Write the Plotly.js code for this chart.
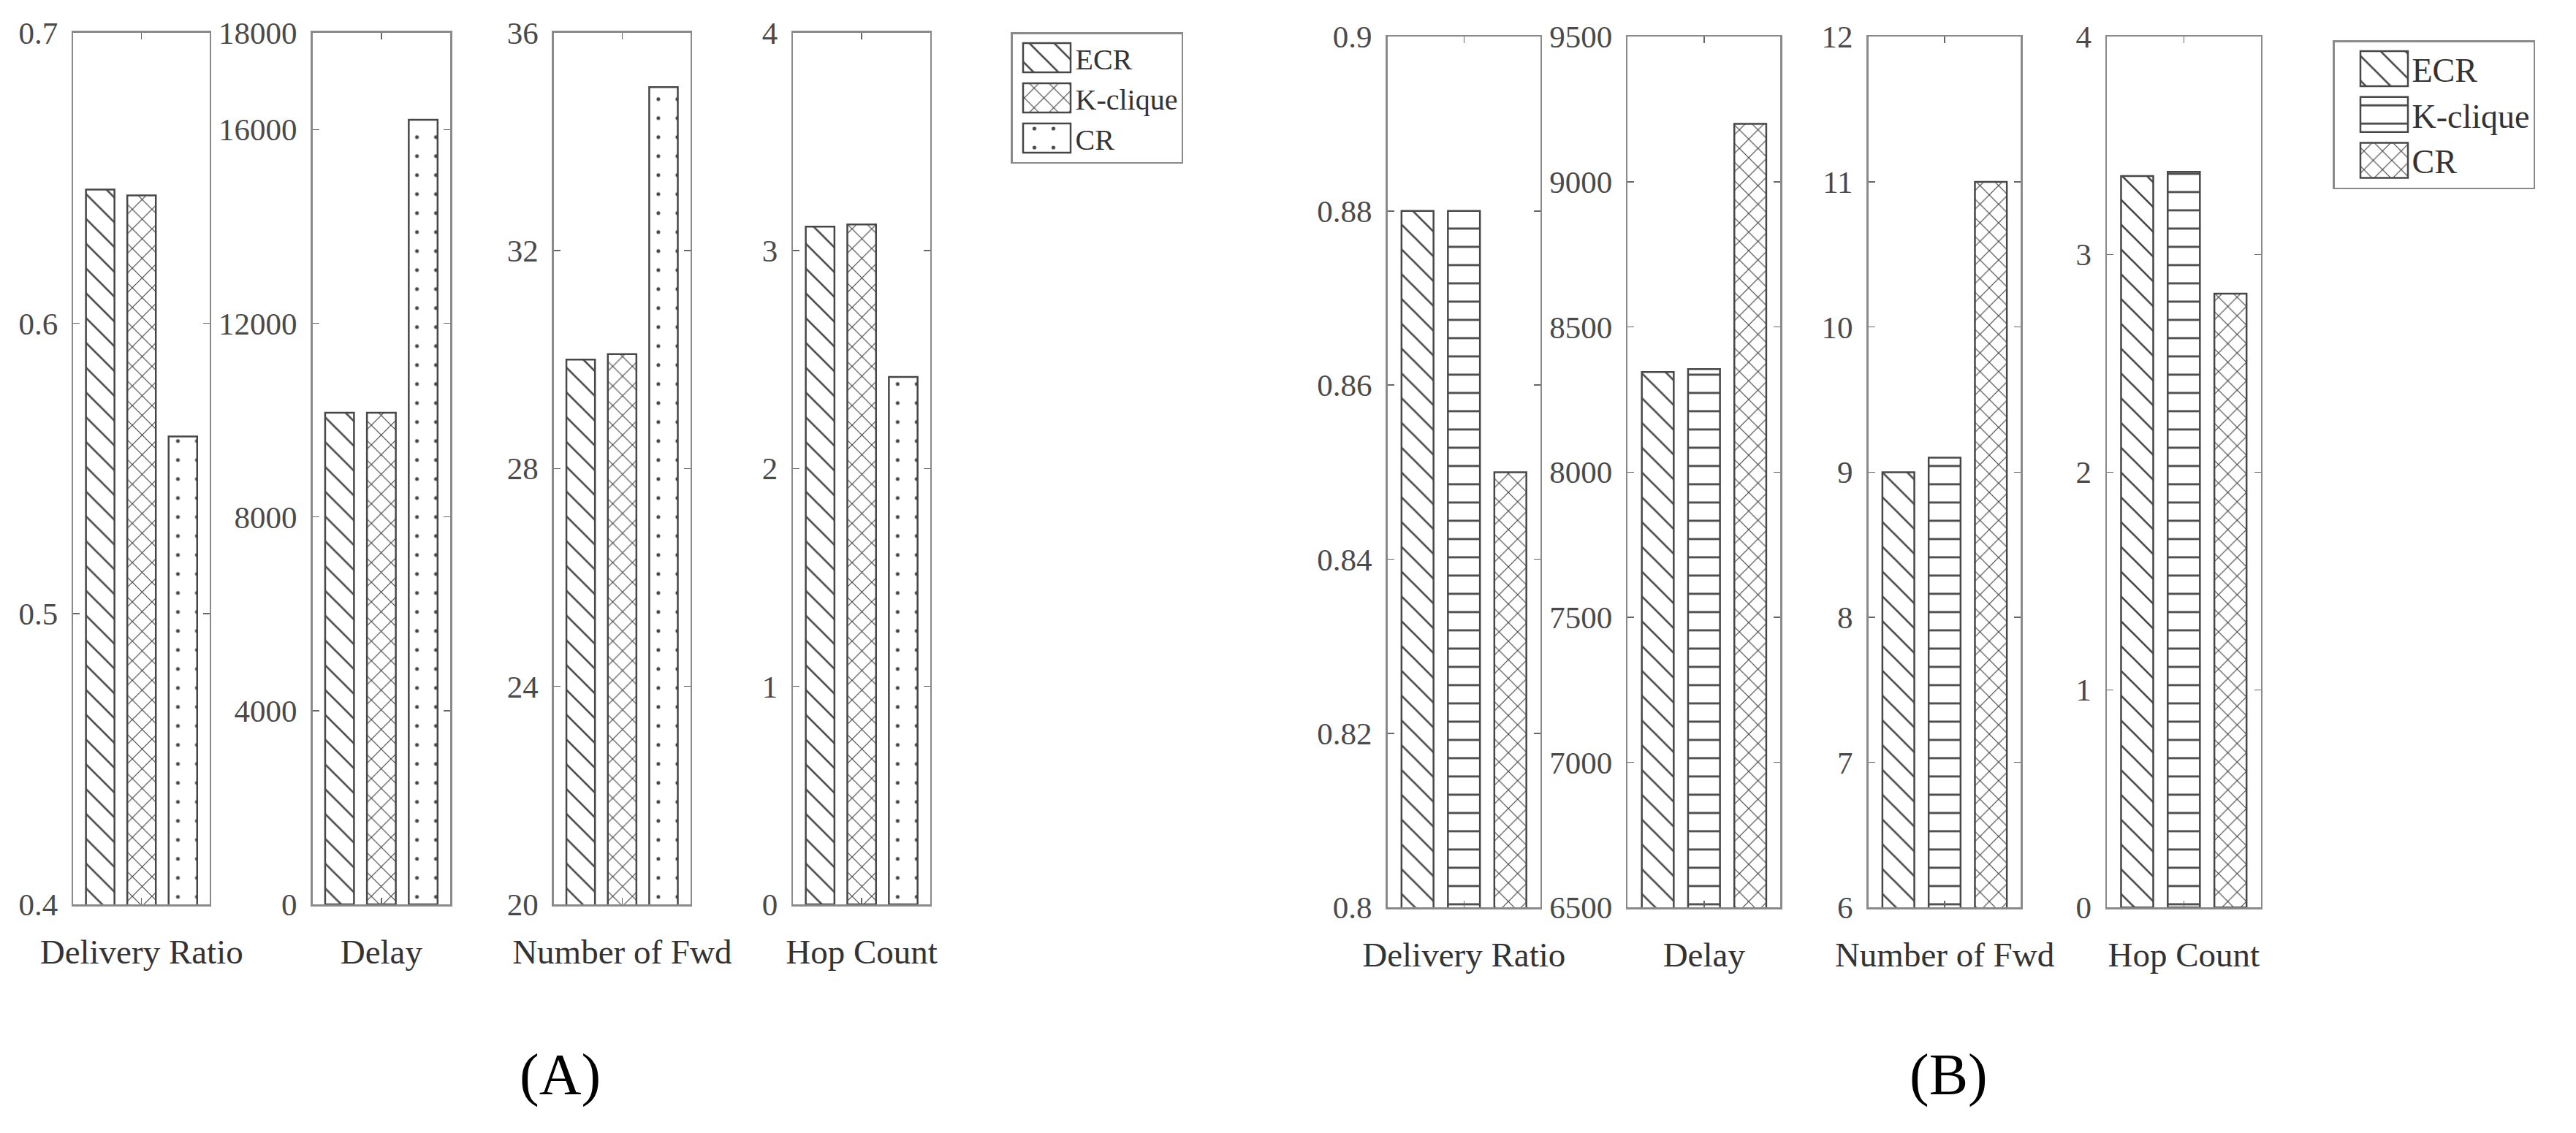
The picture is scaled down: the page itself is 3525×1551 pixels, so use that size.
<!DOCTYPE html>
<html>
<head>
<meta charset="utf-8">
<script src="https://cdn.plot.ly/plotly-3.0.1.min.js"></script>
<style>
  html, body { margin: 0; padding: 0; background: #ffffff; }
  #chart { width: 3525px; height: 1551px; }
</style>
</head>
<body>
<div id="chart"></div>
<script>
// categories
let metrics = ['Delivery Ratio', 'Delay', 'Number of Fwd', 'Hop Count'];
let schemes = ['ECR', 'K-clique', 'CR'];

// (A) one value per metric
let ecrA = [0.646, 10150, 30.0, 3.11];
let kcliqueA = [0.644, 10150, 30.1, 3.12];
let crA = [0.561, 16200, 35.0, 2.42];

// (B) one value per metric
let ecrB = [0.880, 8345, 9.0, 3.36];
let kcliqueB = [0.880, 8355, 9.1, 3.38];
let crB = [0.850, 9200, 11.0, 2.82];

// y ranges and ticks
let rangeA = [[0.4, 0.7], [0, 18000], [20, 36], [0, 4]];
let ticksA = [[0.4, 0.5, 0.6, 0.7], [0, 4000, 8000, 12000, 16000, 18000], [20, 24, 28, 32, 36], [0, 1, 2, 3, 4]];
let rangeB = [[0.8, 0.9], [6500, 9500], [6, 12], [0, 4]];
let ticksB = [[0.8, 0.82, 0.84, 0.86, 0.88, 0.9], [6500, 7000, 7500, 8000, 8500, 9000, 9500], [6, 7, 8, 9, 10, 11, 12], [0, 1, 2, 3, 4]];

// panel placement (paper fractions)
let domA = [[0.0285, 0.0814], [0.1213, 0.1748], [0.2150, 0.2680], [0.3079, 0.3611]];
let domB = [[0.5386, 0.5980], [0.6319, 0.6911], [0.7253, 0.7845], [0.8179, 0.8776]];
let yDomA = [0.2018, 0.9712];
let yDomB = [0.1990, 0.9675];

let patA = [
    { shape: '\\', size: 24, solidity: 0.11 },
    { shape: 'x', size: 19, solidity: 0.12 },
    { shape: '.', size: 26, solidity: 0.03 },
];
let patB = [
    { shape: '\\', size: 24, solidity: 0.11 },
    { shape: '-', size: 25, solidity: 0.11 },
    { shape: 'x', size: 18, solidity: 0.13 },
];

let font = 'Liberation Serif, Times New Roman, serif';
let lineCol = '#8a8a8a';
let data = [];
let layout = {
    width: 3525,
    height: 1551,
    margin: { l: 0, r: 0, t: 0, b: 0, pad: 0 },
    paper_bgcolor: '#ffffff',
    plot_bgcolor: '#ffffff',
    barmode: 'group',
    bargap: 0.09,
    bargroupgap: 0.31,
    font: { family: font, size: 43, color: '#4a4a4a' },
    legend: {
        x: 1383 / 3525, y: 1 - 44 / 1551, xanchor: 'left', yanchor: 'top',
        bgcolor: '#ffffff', bordercolor: lineCol, borderwidth: 2.5,
        itemwidth: 76, font: { family: font, size: 40, color: '#333333' },
        traceorder: 'normal',
    },
    legend2: {
        x: 3192 / 3525, y: 1 - 55 / 1551, xanchor: 'left', yanchor: 'top',
        bgcolor: '#ffffff', bordercolor: lineCol, borderwidth: 2.5,
        itemwidth: 96, font: { family: font, size: 46, color: '#333333' },
        traceorder: 'normal',
    },
    annotations: [
        { text: '(A)', xref: 'paper', yref: 'paper', x: 766 / 3525, y: 1 - 1471 / 1551,
          xanchor: 'center', yanchor: 'middle', showarrow: false,
          font: { family: font, size: 80, color: '#000000' } },
        { text: '(B)', xref: 'paper', yref: 'paper', x: 2666 / 3525, y: 1 - 1471 / 1551,
          xanchor: 'center', yanchor: 'middle', showarrow: false,
          font: { family: font, size: 80, color: '#000000' } },
    ],
    showlegend: true,
};

function addFigure(vals, pats, doms, yDom, ranges, ticks, offset, legendId) {
    for (let i = 0; i < metrics.length; ++i) {
        let n = offset + i + 1;
        let xa = n === 1 ? 'x' : 'x' + n;
        let ya = n === 1 ? 'y' : 'y' + n;
        for (let s = 0; s < schemes.length; ++s) {
            data.push({
                type: 'bar',
                x: [metrics[i]],
                y: [vals[s][i]],
                name: schemes[s],
                xaxis: xa,
                yaxis: ya,
                legend: legendId,
                showlegend: i === 0,
                hoverinfo: 'skip',
                marker: {
                    color: '#ffffff',
                    line: { color: '#474747', width: 2.5 },
                    pattern: {
                        shape: pats[s].shape,
                        size: pats[s].size,
                        solidity: pats[s].solidity,
                        fgcolor: '#454545',
                        bgcolor: '#ffffff',
                        fillmode: 'replace',
                    },
                },
            });
        }
        layout['xaxis' + (n === 1 ? '' : n)] = {
            domain: doms[i],
            anchor: ya,
            type: 'category',
            range: [-0.5, 0.5],
            showline: true, linecolor: lineCol, linewidth: 2.5, mirror: 'ticks',
            ticks: 'inside', ticklen: 9, tickwidth: 1.5, tickcolor: '#666666',
            showgrid: false, zeroline: false,
            ticklabelstandoff: 22,
            tickfont: { family: font, size: 47, color: '#333333' },
        };
        layout['yaxis' + (n === 1 ? '' : n)] = {
            domain: yDom,
            anchor: xa,
            range: ranges[i],
            tickmode: 'array',
            tickvals: ticks[i],
            ticktext: ticks[i].map(String),
            showline: true, linecolor: lineCol, linewidth: 2.5, mirror: 'ticks',
            ticks: 'inside', ticklen: 9, tickwidth: 1.5, tickcolor: '#666666',
            showgrid: false, zeroline: false,
            ticklabelstandoff: 10,
            tickfont: { family: font, size: 43, color: '#4a4a4a' },
        };
    }
}

addFigure([ecrA, kcliqueA, crA], patA, domA, yDomA, rangeA, ticksA, 0, 'legend');
addFigure([ecrB, kcliqueB, crB], patB, domB, yDomB, rangeB, ticksB, 4, 'legend2');

// legend swatches are tiny by default, make them the size of the original ones
function bigSwatches(gd, legendClass, subplot, w, h, shift) {
    let leg = gd.querySelector('g.' + legendClass);
    if (!leg) return;
    let items = leg.querySelectorAll('g.legendpoints');
    let bars = gd.querySelectorAll('g.subplot.' + subplot + ' .barlayer g.trace');
    for (let k = 0; k < items.length; ++k) {
        let p = items[k].querySelector('path');
        if (!p) continue;
        let x0 = shift - w / 2, x1 = shift + w / 2;
        p.setAttribute('d', 'M' + x1 + ',' + (h / 2) + 'H' + x0 + 'V' + (-h / 2) + 'H' + x1 + 'Z');
        if (bars[k]) {
            let bp = bars[k].querySelector('path');
            if (bp) {
                let f = bp.style.fill || bp.getAttribute('fill');
                if (f) p.style.fill = f;
            }
        }
        p.style.stroke = '#474747';
        p.style.strokeWidth = '2.5px';
    }
}

function fixLegends() {
    let gd = document.getElementById('chart');
    bigSwatches(gd, 'legend', 'xy', 65, 40, 4);
    bigSwatches(gd, 'legend2', 'x5y5', 65, 48, 15);
}

Plotly.newPlot('chart', data, layout, { staticPlot: true, displayModeBar: false }).then(function (gd) {
    gd.on('plotly_afterplot', fixLegends);
    fixLegends();
    setTimeout(fixLegends, 50);
    setTimeout(fixLegends, 300);
});
</script>
</body>
</html>
